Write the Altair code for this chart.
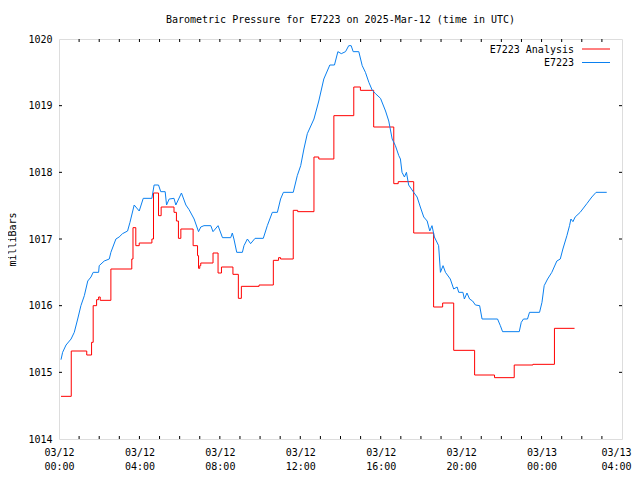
import altair as alt
import pandas as pd

# E7223 observed pressure (hours after 2025-03-12 00:00 UTC, millibars)
blue_hours = [0.10, 0.18, 0.35, 0.60, 0.76, 0.93, 1.09, 1.26, 1.43, 1.59, 1.70, 1.97, 2.00, 2.25, 2.50,
              2.58, 2.83, 2.99, 3.16, 3.41, 3.53, 3.74, 3.99, 4.19, 4.62, 4.73, 4.95, 5.06, 5.28, 5.35,
              5.48, 5.72, 5.81, 6.09, 6.31, 6.47, 6.72, 6.94, 7.05, 7.21, 7.55, 7.66, 7.91, 8.13, 8.54,
              8.62, 8.70, 8.84, 9.12, 9.20, 9.37, 9.53, 9.75, 10.16, 10.36, 10.61, 10.86, 11.02, 11.16,
              11.65, 11.85, 12.02, 12.18, 12.35, 12.68, 12.92, 13.17, 13.47, 13.70, 13.87, 14.04, 14.25,
              14.41, 14.53, 14.63, 14.91, 15.08, 15.24, 15.41, 15.58, 15.74, 15.99, 16.24, 16.40, 16.57,
              16.73, 16.90, 16.98, 17.06, 17.18, 17.28, 17.39, 17.64, 17.81, 17.97, 18.14, 18.31, 18.44,
              18.55, 18.67, 18.88, 18.97, 19.10, 19.22, 19.46, 19.63, 19.80, 19.88, 20.09, 20.16, 20.29,
              20.42, 20.57, 20.71, 20.92, 21.04, 21.81, 21.95, 22.06, 22.89, 22.99, 23.10, 23.30, 23.40,
              23.90, 24.02, 24.13, 24.30, 24.51, 24.76, 24.93, 25.06, 25.26, 25.39, 25.46, 25.56, 25.67,
              25.92, 26.25, 26.50, 26.71, 27.24]
blue_mb = [1015.19, 1015.30, 1015.41, 1015.50, 1015.60, 1015.80, 1016.00, 1016.15, 1016.37, 1016.43,
           1016.50, 1016.50, 1016.60, 1016.67, 1016.70, 1016.80, 1017.00, 1017.03, 1017.08, 1017.12,
           1017.25, 1017.51, 1017.42, 1017.61, 1017.61, 1017.81, 1017.81, 1017.71, 1017.71, 1017.51,
           1017.60, 1017.61, 1017.51, 1017.69, 1017.51, 1017.44, 1017.30, 1017.11, 1017.18, 1017.20,
           1017.20, 1017.11, 1017.20, 1017.02, 1017.02, 1017.09, 1017.00, 1016.80, 1016.80, 1016.90,
           1017.00, 1016.93, 1017.01, 1017.01, 1017.20, 1017.40, 1017.40, 1017.60, 1017.70, 1017.70,
           1017.95, 1018.10, 1018.35, 1018.58, 1018.80, 1019.07, 1019.40, 1019.61, 1019.61, 1019.81,
           1019.78, 1019.81, 1019.90, 1019.90, 1019.81, 1019.81, 1019.60, 1019.50, 1019.35, 1019.23,
           1019.18, 1019.11, 1018.92, 1018.77, 1018.50, 1018.40, 1018.25, 1018.20, 1018.00, 1017.93,
           1018.00, 1017.81, 1017.70, 1017.63, 1017.48, 1017.33, 1017.27, 1017.12, 1017.20, 1017.03,
           1016.90, 1016.50, 1016.60, 1016.50, 1016.40, 1016.25, 1016.28, 1016.20, 1016.20, 1016.10,
           1016.19, 1016.10, 1016.07, 1016.01, 1016.00, 1015.80, 1015.80, 1015.70, 1015.61, 1015.61,
           1015.75, 1015.80, 1015.80, 1015.90, 1015.90, 1016.05, 1016.30, 1016.40, 1016.50, 1016.67,
           1016.70, 1016.85, 1017.05, 1017.20, 1017.30, 1017.26, 1017.33, 1017.40, 1017.53, 1017.63,
           1017.70, 1017.70]

# E7223 Analysis (step values, hours after 2025-03-12 00:00 UTC, millibars)
red_hours = [0.10, 0.61, 1.38, 1.62, 1.70, 1.87, 1.97, 2.05, 2.58, 3.62, 3.68, 3.82, 3.99, 4.62, 4.70,
             4.95, 5.08, 5.72, 5.84, 5.94, 6.06, 6.67, 6.89, 6.94, 7.00, 7.05, 7.66, 7.91, 8.08, 8.65,
             8.92, 9.07, 9.95, 10.66, 10.92, 11.02, 11.65, 11.87, 12.68, 12.92, 13.67, 14.66, 14.99,
             15.65, 16.65, 16.87, 17.64, 18.63, 19.08, 19.63, 20.67, 21.66, 22.64, 23.57, 24.64, 25.64]
red_mb = [1014.64, 1015.32, 1015.26, 1015.45, 1016.00, 1016.09, 1016.13, 1016.08, 1016.55, 1016.70,
          1017.17, 1016.90, 1016.94, 1017.00, 1017.69, 1017.35, 1017.48, 1017.40, 1017.27, 1017.01,
          1017.15, 1016.90, 1016.75, 1016.56, 1016.60, 1016.64, 1016.79, 1016.49, 1016.58, 1016.47,
          1016.11, 1016.29, 1016.31, 1016.68, 1016.72, 1016.70, 1017.43, 1017.41, 1018.23, 1018.20,
          1018.85, 1019.28, 1019.23, 1018.68, 1017.83, 1017.86, 1017.09, 1015.98, 1016.04, 1015.33,
          1014.96, 1014.92, 1015.11, 1015.12, 1015.66, 1015.66]

x_major_hours = [0, 4, 8, 12, 16, 20, 24, 28]
x_minor_hours = list(range(1, 28))
y_ticks = [1014, 1015, 1016, 1017, 1018, 1019, 1020]

leg_names = ["E7223 Analysis", "E7223"]
leg_colors = ["#ff0000", "#0a80f0"]

base = pd.Timestamp("2025-03-12T00:00:00Z")


def iso(h):
    return (base + pd.Timedelta(hours=h)).strftime("%Y-%m-%dT%H:%M:%SZ")


def dt(h):
    return alt.DateTime(year=2025, month=3, date=12 + h // 24, hours=h % 24, utc=True)


blue_df = pd.DataFrame({"time": [iso(h) for h in blue_hours], "mb": blue_mb})
red_df = pd.DataFrame({"time": [iso(h) for h in red_hours], "mb": red_mb})
minor_df = pd.DataFrame({"time": [iso(h) for h in x_minor_hours]})
ytick_df = pd.DataFrame({"mb": y_ticks[1:-1]})
one_row = pd.DataFrame({"k": [0]})

FONT = "DejaVu Sans Mono"
W, H = 563, 400

xscale = alt.Scale(type="utc", domain=[dt(0), dt(28)])
yscale = alt.Scale(domain=[1014, 1020], nice=False, zero=False)

x_axis = alt.Axis(
    values=[dt(h) for h in x_major_hours],
    labelExpr="[utcFormat(datum.value, '%m/%d'), utcFormat(datum.value, '%H:%M')]",
    ticks=False, domain=False, grid=False, labelFlush=False, labelOverlap=False,
    labelFont=FONT, labelFontSize=10, labelColor="black", labelLineHeight=14,
    labelPadding=8, title=None,
    labelOffset={"condition": {"test": "datum.value >= utc(2025, 2, 13, 3, 0)", "value": -6},
                 "value": 0},
)
y_axis = alt.Axis(
    values=y_ticks, format="d", ticks=False, domain=False, grid=False,
    labelFlush=False, labelOverlap=False, labelFont=FONT, labelFontSize=10,
    labelColor="black", labelPadding=7, title="milliBars", titleFont=FONT,
    titleFontSize=10, titleFontWeight="normal", titleColor="black", titlePadding=10,
)

red = alt.Chart(red_df).mark_line(color="#ff0000", strokeWidth=1, interpolate="step-after").encode(
    x=alt.X("time:T", scale=xscale, axis=x_axis),
    y=alt.Y("mb:Q", scale=yscale, axis=y_axis),
)
blue = alt.Chart(blue_df).mark_line(color="#0a80f0", strokeWidth=1).encode(
    x=alt.X("time:T", scale=xscale),
    y=alt.Y("mb:Q", scale=yscale),
)

xt_bottom = alt.Chart(minor_df).mark_rule(color="black", strokeWidth=1).encode(
    x=alt.X("time:T", scale=xscale), y=alt.value(H), y2=alt.value(H - 3))
xt_top = alt.Chart(minor_df).mark_rule(color="black", strokeWidth=1).encode(
    x=alt.X("time:T", scale=xscale), y=alt.value(0), y2=alt.value(3))
yt_left = alt.Chart(ytick_df).mark_rule(color="black", strokeWidth=1).encode(
    y=alt.Y("mb:Q", scale=yscale), x=alt.value(0), x2=alt.value(3))
yt_right = alt.Chart(ytick_df).mark_rule(color="black", strokeWidth=1).encode(
    y=alt.Y("mb:Q", scale=yscale), x=alt.value(W), x2=alt.value(W - 3))

legend_layers = []
for i, (name, col) in enumerate(zip(leg_names, leg_colors)):
    yy = 10.5 + 13.5 * i
    legend_layers.append(
        alt.Chart(one_row).mark_text(text=name, align="right", baseline="middle", font=FONT,
                                     fontSize=10, color="black").encode(
            x=alt.value(515), y=alt.value(yy)))
    legend_layers.append(
        alt.Chart(one_row).mark_rule(color=col, strokeWidth=1).encode(
            x=alt.value(523), x2=alt.value(551), y=alt.value(yy - 0.5)))

chart = alt.layer(red, blue, xt_bottom, xt_top, yt_left, yt_right, *legend_layers).properties(
    width=W, height=H,
    title=alt.TitleParams(
        "Barometric Pressure for E7223 on 2025-Mar-12 (time in UTC)",
        font=FONT, fontSize=10, fontWeight="normal", color="black", anchor="middle", offset=9,
    ),
    padding={"left": 51, "top": 31, "right": 10, "bottom": 33},
    autosize=alt.AutoSizeParams(type="none"),
).configure_view(stroke="black", strokeWidth=1).configure(background="white")

chart.save("out.html", embed_options={"renderer": "svg", "actions": False})
